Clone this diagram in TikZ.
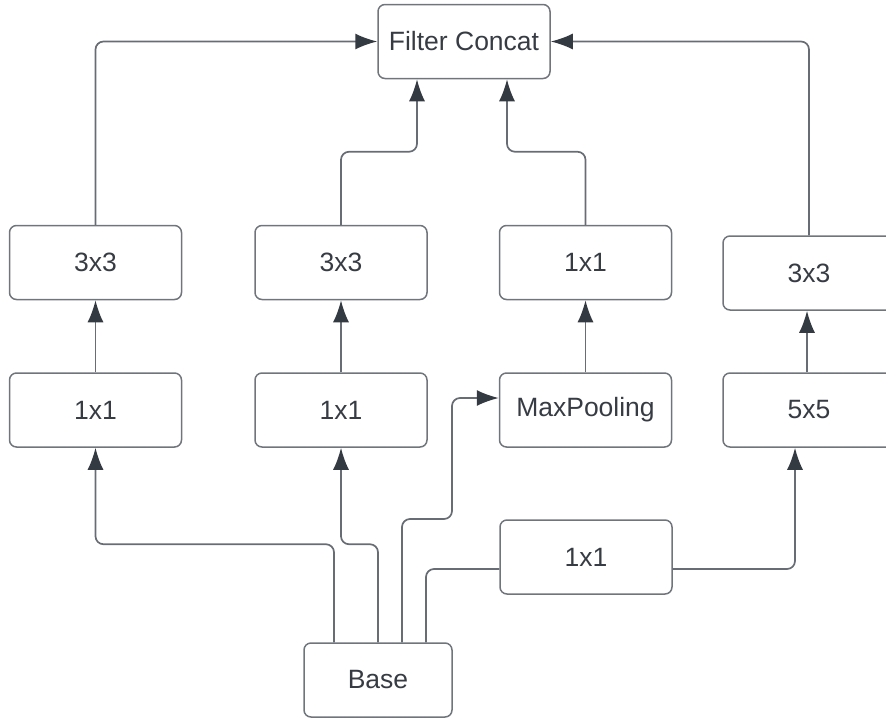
\documentclass[tikz,border=0pt]{standalone}
\usepackage{fontspec}
\setmainfont{Liberation Sans}
\usetikzlibrary{arrows.meta}

\begin{document}
\begin{tikzpicture}[x=1pt,y=-1pt,
        box/.style={draw=boxgray,line width=1.5pt,rounded corners=7pt,
            minimum width=172pt,minimum height=74pt,inner sep=0pt,
            text=textdark,font=\fontsize{26.5}{30}\selectfont},
        conn/.style={draw=linegray,line width=1.7pt,rounded corners=8pt},
        arr/.style={conn,arrows={-Latex[length=22pt,width=16pt,color=tipdark]}}]
        \definecolor{boxgray}{RGB}{112,117,124}
        \definecolor{linegray}{RGB}{104,109,117}
        \definecolor{tipdark}{RGB}{52,58,66}
        \definecolor{textdark}{RGB}{55,60,68}

        \useasboundingbox (0,0) rectangle (886,718);
        \clip (0,0) rectangle (886,718);

        % boxes
        \node[box] (concat) at (464,41.5) {Filter Concat};

        \node[box] (lthree) at (95.5,262.5) {3x3};
        \node[box] (lone)   at (95.5,410)   {1x1};

        \node[box] (mthree) at (341,262.5) {3x3};
        \node[box] (mone)   at (341,410)   {1x1};

        \node[box] (pone)   at (585.5,262.5) {1x1};
        \node[box] (pool)   at (585.5,410)   {MaxPooling};

        \node[box] (rthree) at (809,273) {3x3};
        \node[box] (rfive)  at (809,410) {5x5};

        \node[box] (cone)   at (586,557) {1x1};
        \node[box,minimum width=148pt] (base) at (378,680) {Base};

        % from base
        \draw[arr] ([xshift=-44pt]base.north) -- ++(0,-98) -| (lone.south);
        \draw[arr] (base.north) -- ++(0,-98) -| (mone.south);
        \draw[arr] ([xshift=24pt]base.north) |- (452,519)
            |- ([yshift=12pt]pool.west);
        \draw[conn] ([xshift=48pt]base.north) |- ([yshift=-12pt]cone.west);
        \draw[arr] ([yshift=-12pt]cone.east) -| ([xshift=-14pt]rfive.south);

        % middle row
        \draw[arr] (lone.north) -- (lthree.south);
        \draw[arr] (mone.north) -- (mthree.south);
        \draw[arr] (pool.north) -- (pone.south);
        \draw[arr] ([xshift=-2pt]rfive.north) -- ([xshift=-2pt]rthree.south);

        % into concat
        \draw[arr] (lthree.north) |- (concat.west);
        \draw[arr] (mthree.north) -- ++(0,-73) -| ([xshift=-47pt]concat.south);
        \draw[arr] (pone.north) -- ++(0,-73) -| ([xshift=43pt]concat.south);
        \draw[arr] (rthree.north) |- (concat.east);
    \end{tikzpicture}
\end{document}
